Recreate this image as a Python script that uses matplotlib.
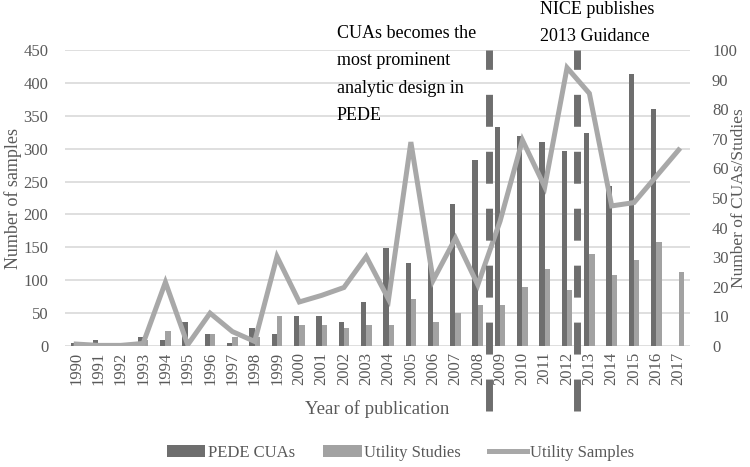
import matplotlib
matplotlib.use("Agg")
import matplotlib.pyplot as plt
import numpy as np
from matplotlib.patches import Patch
from matplotlib.lines import Line2D

years = [str(y) for y in range(1990, 2018)]
pede_cuas = [1, 2, 0, 3, 2, 8, 4, 1, 6, 4, 10, 10, 8, 15, 33, 28, 28, 48, 63, 74, 71, 69, 66, 72, 54, 92, 80, 0]
utility_studies = [0, 0, 0, 2, 5, 0, 4, 3, 3, 10, 7, 7, 6, 7, 7, 16, 8, 11, 14, 14, 20, 26, 19, 31, 24, 29, 35, 25]
utility_samples = [3, 1, 1, 4, 97, 2, 50, 22, 7, 136, 67, 77, 89, 136, 71, 310, 100, 164, 93, 190, 313, 242, 423, 384, 213, 218, 258, 298]
event_positions = [18.5, 22.45]
event_texts = ["CUAs becomes the\nmost prominent\nanalytic design in\nPEDE", "NICE publishes\n2013 Guidance"]

serif = ["Liberation Serif", "DejaVu Serif"]
plt.rcParams['font.family'] = serif

c_dark = "#6e6e6e"
c_light = "#a2a2a2"
c_line = "#a8a8a8"
c_text = "#595959"

fig = plt.figure(figsize=(7.5, 4.67), dpi=100)
ax = fig.add_axes([0.0867, 0.259, 0.833, 0.634])
ax2 = ax.twinx()

x = np.arange(len(years))
w = 0.24
ax2.bar(x - w / 2, pede_cuas, w, color=c_dark, zorder=2)
ax2.bar(x + w / 2, utility_studies, w, color=c_light, zorder=2)
ax2.set_ylim(0, 100)
ax2.set_yticks(np.arange(0, 101, 10))

ax.set_ylim(0, 450)
ax.set_yticks(np.arange(0, 451, 50))
ax.set_xlim(-0.5, len(years) - 0.5)
ax.grid(axis='y', color="#d9d9d9", linewidth=1.2, zorder=0)
ax.set_axisbelow(True)

ax3 = ax.twinx()
ax3.set_ylim(0, 450)
ax3.axis('off')
ax3.plot(x, utility_samples, color=c_line, linewidth=3.6, solid_joinstyle='miter', zorder=3)

for pos in event_positions:
    ax3.plot([pos, pos], [-99, 450], color=c_dark, linewidth=5,
             linestyle=(0, (4.6, 3.6)), clip_on=False, zorder=4)

for a in (ax, ax2, ax3):
    for s in a.spines.values():
        s.set_visible(False)

ax.set_xticks(x)
ax.set_xticklabels(years, rotation=90, fontsize=12, color=c_text)
ax.tick_params(axis='x', length=0, labelsize=12, colors=c_text, pad=4)
ax.tick_params(axis='y', length=0, labelsize=12, colors=c_text, pad=12)
ax2.tick_params(axis='y', length=0, labelsize=12, colors=c_text, pad=16)
ax.set_ylabel("Number of samples", fontsize=13, color=c_text, ha='center', va='center')
ax.yaxis.set_label_coords(-0.083, 0.5)
ax2.set_ylabel("Number of CUAs/Studies", fontsize=12.5, color=c_text,
               ha='center', va='center', rotation=90)
ax2.yaxis.set_label_coords(1.079, 0.5)
ax.set_xlabel("Year of publication", fontsize=13.5, color=c_text, labelpad=11)

fig.text(337 / 750, 1 - 25 / 467, event_texts[0], fontsize=13, color="black",
         va='top', ha='left', linespacing=1.8)
fig.text(540 / 750, 1 - 1 / 467, event_texts[1], fontsize=13, color="black",
         va='top', ha='left', linespacing=1.8)

handles = [Patch(facecolor=c_dark), Patch(facecolor=c_light),
           Line2D([0], [0], color=c_line, linewidth=3.6)]
labels = ["PEDE CUAs", "Utility Studies", "Utility Samples"]
leg = fig.legend(handles, labels, loc='center', bbox_to_anchor=(0.534, 1 - 453 / 467),
                 ncol=3, frameon=False, fontsize=12, handlelength=2.3, handleheight=0.7,
                 handletextpad=0.15, columnspacing=1.7)
for t in leg.get_texts():
    t.set_color(c_text)

fig.savefig("out.png", dpi=100)
